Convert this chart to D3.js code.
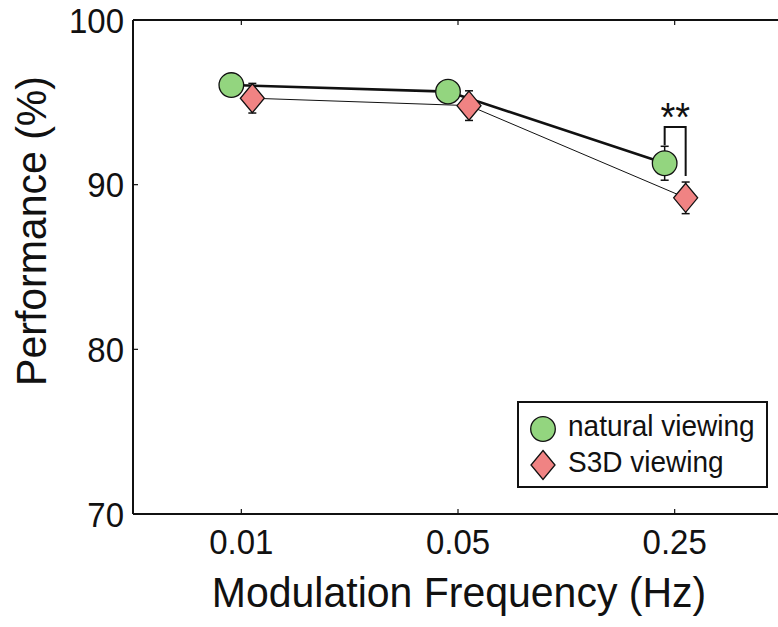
<!DOCTYPE html>
<html><head><meta charset="utf-8">
<script src="https://cdn.jsdelivr.net/npm/d3@7"></script>
<style>
html,body{margin:0;padding:0;background:#fff;}
svg{display:block;}
text{font-family:"Liberation Sans",Arial,Helvetica,sans-serif;fill:#111;}
</style></head>
<body>
<svg id="c" width="778" height="627"></svg>
<script>
// ---- data ----
const frequencies = [0.01, 0.05, 0.25];
const tickLabels = ["0.01", "0.05", "0.25"];
const naturalValues = [96.05, 95.65, 91.3];
const naturalErrors = [0.5, 0.5, 1.03];
const s3dValues = [95.25, 94.8, 89.2];
const s3dErrors = [0.9, 0.9, 0.96];
const yTicks = [70, 80, 90, 100];
const seriesNames = ["natural viewing", "S3D viewing"];
const sigLabel = "**";

(function () {
// ---- layout ----
const svg = d3.select("#c");
const pL = 133, pR = 783, pT = 20, pB = 514;
const x = d3.scaleLog().domain([0.01 / Math.sqrt(5), 0.25 * Math.sqrt(5)]).range([pL, pR]);
const y = d3.scaleLinear().domain([70, 100]).range([pB, pT]);
const ink = "#111";
const green = "#93d57f", red = "#f08383";

function txt(g, s, px, py, size, anchor, rot, stretch) {
  return g.append("text")
    .attr("transform", `translate(${px},${py})` + (rot ? ` rotate(${rot})` : "") + ` scale(1,${stretch || 1.08})`)
    .attr("text-anchor", anchor).attr("font-size", size).text(s);
}

// axes box
const axG = svg.append("g");
axG.append("line").attr("x1", pL).attr("x2", pL).attr("y1", pT).attr("y2", pB).attr("stroke", ink).attr("stroke-width", 2);
axG.append("line").attr("x1", pL).attr("x2", pR).attr("y1", pB).attr("y2", pB).attr("stroke", ink).attr("stroke-width", 2);
axG.append("line").attr("x1", pL).attr("x2", pR).attr("y1", pT).attr("y2", pT).attr("stroke", ink).attr("stroke-width", 2);
axG.append("line").attr("x1", pR).attr("x2", pR).attr("y1", pT).attr("y2", pB).attr("stroke", ink).attr("stroke-width", 2);

// ticks
const tl = 5;
yTicks.forEach(t => {
  axG.append("line").attr("x1", pL).attr("x2", pL + tl).attr("y1", y(t)).attr("y2", y(t)).attr("stroke", ink).attr("stroke-width", 1.2);
  axG.append("line").attr("x1", pR).attr("x2", pR - tl).attr("y1", y(t)).attr("y2", y(t)).attr("stroke", ink).attr("stroke-width", 1.2);
  txt(axG, String(t), pL - 9, y(t) + 12.6, 33, "end");
});
frequencies.forEach((f, i) => {
  axG.append("line").attr("x1", x(f)).attr("x2", x(f)).attr("y1", pB).attr("y2", pB - tl).attr("stroke", ink).attr("stroke-width", 1.2);
  axG.append("line").attr("x1", x(f)).attr("x2", x(f)).attr("y1", pT).attr("y2", pT + tl).attr("stroke", ink).attr("stroke-width", 1.2);
  txt(axG, tickLabels[i], x(f), 554, 33, "middle");
});

// titles
txt(svg, "Modulation Frequency (Hz)", 459, 607, 41, "middle", 0, 1.03);
txt(svg, "Performance (%)", 46, 231, 41, "middle", -90, 1.03);

// series
const dodge = [-10, 11];
function drawSeries(vals, errs, k, lw, shape) {
  const g = svg.append("g");
  const pts = frequencies.map((f, i) => [x(f) + dodge[k], y(vals[i]), errs[i], vals[i]]);
  g.append("path").attr("d", d3.line()(pts.map(p => [p[0], p[1]])))
    .attr("fill", "none").attr("stroke", ink).attr("stroke-width", lw);
  pts.forEach(p => {
    const y1 = y(p[3] + p[2]), y2 = y(p[3] - p[2]);
    g.append("line").attr("x1", p[0]).attr("x2", p[0]).attr("y1", y1).attr("y2", y2).attr("stroke", ink).attr("stroke-width", 1.5);
    [y1, y2].forEach(yy => g.append("line").attr("x1", p[0] - 4).attr("x2", p[0] + 4).attr("y1", yy).attr("y2", yy).attr("stroke", ink).attr("stroke-width", 1.5));
  });
  pts.forEach(p => shape(g, p[0], p[1]));
}
const circ = (g, cx, cy) => g.append("circle").attr("cx", cx).attr("cy", cy).attr("r", 12.3).attr("fill", green).attr("stroke", ink).attr("stroke-width", 1.3);
const diam = (g, cx, cy) => g.append("path").attr("d", `M${cx},${cy - 14.5}L${cx + 12},${cy}L${cx},${cy + 14.5}L${cx - 12},${cy}Z`).attr("fill", red).attr("stroke", ink).attr("stroke-width", 1.3);
drawSeries(naturalValues, naturalErrors, 0, 2.6, circ);
drawSeries(s3dValues, s3dErrors, 1, 1, diam);

// significance bracket
const bx1 = x(frequencies[2]) + dodge[0], bx2 = x(frequencies[2]) + dodge[1];
const bTop = y(93.5);
svg.append("path")
  .attr("d", `M${bx1},${y(naturalValues[2] + naturalErrors[2]) - 1}V${bTop}H${bx2}V${y(s3dValues[2] + s3dErrors[2]) - 6}`)
  .attr("fill", "none").attr("stroke", ink).attr("stroke-width", 2);
txt(svg, sigLabel, (bx1 + bx2) / 2, 131, 38, "middle");

// legend
const lg = svg.append("g");
lg.append("rect").attr("x", 518).attr("y", 402).attr("width", 249).attr("height", 85).attr("fill", "#fff").attr("stroke", ink).attr("stroke-width", 2);
circ(lg, 543, 429);
diam(lg, 543, 465);
txt(lg, seriesNames[0], 568, 436, 28, "start");
txt(lg, seriesNames[1], 568, 472, 28, "start");
})();
</script>
</body></html>
